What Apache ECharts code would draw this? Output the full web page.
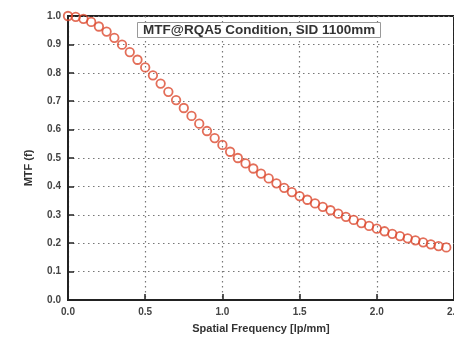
<!DOCTYPE html>
<html>
<head>
<meta charset="utf-8">
<script src="https://cdn.jsdelivr.net/npm/echarts@6/dist/echarts.min.js"></script>
<style>html,body{margin:0;padding:0;background:#fff;}#c{width:454px;height:342px;}</style>
</head>
<body>
<div id="c"></div>
<script>
const titleText = 'MTF@RQA5 Condition, SID 1100mm';
const xName = 'Spatial Frequency [lp/mm]';
const yName = 'MTF (f)';
const freq = [0.00,0.05,0.10,0.15,0.20,0.25,0.30,0.35,0.40,0.45,0.50,0.55,0.60,0.65,0.70,0.75,0.80,0.85,0.90,0.95,1.00,1.05,1.10,1.15,1.20,1.25,1.30,1.35,1.40,1.45,1.50,1.55,1.60,1.65,1.70,1.75,1.80,1.85,1.90,1.95,2.00,2.05,2.10,2.15,2.20,2.25,2.30,2.35,2.40,2.45];
const mtf = [1.000,0.997,0.990,0.979,0.963,0.945,0.923,0.899,0.873,0.846,0.819,0.791,0.762,0.733,0.704,0.676,0.648,0.621,0.595,0.570,0.546,0.522,0.500,0.481,0.463,0.445,0.428,0.411,0.395,0.380,0.366,0.353,0.340,0.328,0.316,0.304,0.293,0.282,0.271,0.261,0.251,0.242,0.233,0.225,0.217,0.210,0.203,0.196,0.190,0.185];

const chart = echarts.init(document.getElementById('c'), null, {renderer:'canvas'});
const labelStyle = {color:'#444', fontSize:10, fontWeight:'bold', fontFamily:'Liberation Sans, Arial, sans-serif'};
chart.setOption({
  animation:false,
  backgroundColor:'#fff',
  title:{
    text:titleText, left:137, top:22,
    padding:[1,6,1,6],
    borderColor:'#999', borderWidth:1, backgroundColor:'#fff',
    textStyle:{fontSize:13.5, fontWeight:'bold', color:'#333', fontFamily:'Liberation Sans, Arial, sans-serif'}
  },
  grid:{left:68, right:0, top:16, bottom:42, outerBoundsMode:'none', containLabel:false, show:true, borderColor:'#222', borderWidth:2, backgroundColor:'#fff', z:0},
  xAxis:{
    type:'value', min:0, max:2.5, interval:0.5,
    name:xName, nameLocation:'middle', nameGap:23,
    nameTextStyle:{color:'#333', fontSize:11, fontWeight:'bold', fontFamily:'Liberation Sans, Arial, sans-serif'},
    axisLine:{show:true, lineStyle:{color:'#222', width:2}},
    axisTick:{show:true, inside:true, length:6, lineStyle:{color:'#222', width:1.5}},
    axisLabel:Object.assign({margin:7, formatter:v=>v.toFixed(1), hideOverlap:false}, labelStyle),
    splitLine:{show:true, lineStyle:{color:'#777', type:[1.5,3.5], width:1.2}}
  },
  yAxis:{
    type:'value', min:0, max:1, interval:0.1,
    name:yName, nameLocation:'middle', nameGap:34, nameRotate:90,
    nameTextStyle:{color:'#333', fontSize:11, fontWeight:'bold', fontFamily:'Liberation Sans, Arial, sans-serif', padding:[0,0,0,-20]},
    axisLine:{show:true, lineStyle:{color:'#222', width:2}},
    axisTick:{show:true, inside:true, length:6, lineStyle:{color:'#222', width:1.5}},
    axisLabel:Object.assign({margin:7, formatter:v=>v.toFixed(1)}, labelStyle),
    splitLine:{show:true, lineStyle:{color:'#777', type:[1.5,3.5], width:1.2}}
  },
  series:[{
    type:'scatter',
    data:freq.map((f,i)=>[f,mtf[i]]),
    symbol:'circle', symbolSize:8.5,
    itemStyle:{color:'rgba(255,255,255,0)', borderColor:'#dc4a30', borderWidth:1.8},
    clip:false, z:5
  }]
});
</script>
</body>
</html>
